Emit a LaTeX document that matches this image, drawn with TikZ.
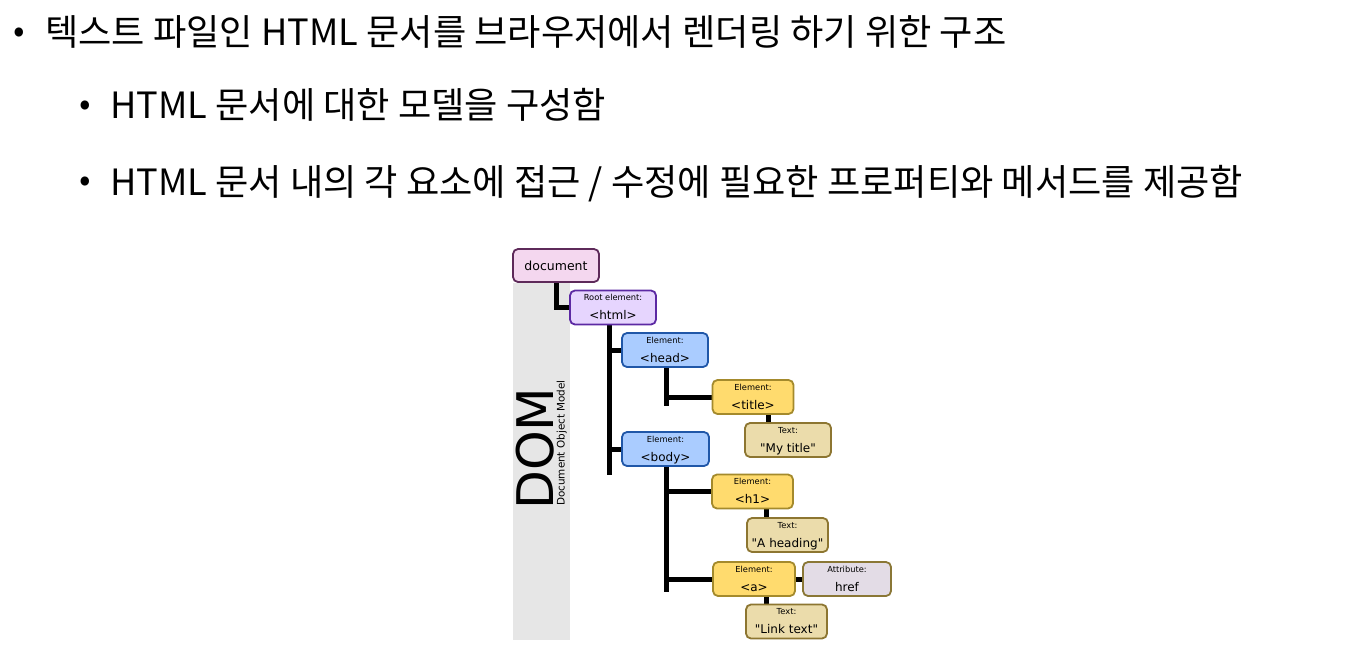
\documentclass[tikz,border=0pt]{standalone}
\usepackage{fontspec}
\setmainfont{Noto Sans CJK KR}
\newfontfamily\dvsans{DejaVu Sans}
\usetikzlibrary{calc}
\pgfdeclarelayer{background}
\pgfsetlayers{background,main}
\definecolor{bandgray}{HTML}{E6E6E6}
\definecolor{docfill}{HTML}{F4D7EF}
\definecolor{docdraw}{HTML}{5E2A5A}
\definecolor{htmlfill}{HTML}{E6D5FE}
\definecolor{htmldraw}{HTML}{5C29A3}
\definecolor{bluefill}{HTML}{AACCFF}
\definecolor{bluedraw}{HTML}{2057A8}
\definecolor{yelfill}{HTML}{FFDB6E}
\definecolor{yeldraw}{HTML}{A48A2C}
\definecolor{tanfill}{HTML}{EBDCAB}
\definecolor{tandraw}{HTML}{8D7631}
\definecolor{attfill}{HTML}{E3DCE6}
\definecolor{attdraw}{HTML}{8A7736}
\newcommand\dombox[7]{%
  \node[dbox, fill=#4, draw=#5, minimum width=#3] (#1) at (#2) {};
  \node[lblsm] (#1-s) at ($(#1.north)+(0,11)$) {#6};
  \node[lblbig] (#1-b) at ($(#1.north)+(0,30)$) {#7};
}
\begin{document}
\begin{tikzpicture}[x=1pt,y=-1pt,
  ko/.style={anchor=base west, inner sep=0pt, font=\fontsize{36.2}{42}\selectfont},
  bul/.style={anchor=base, inner sep=0pt, font=\fontsize{34}{40}\selectfont},
  dbox/.style={rounded corners=5pt, line width=1.8pt, inner sep=0pt, minimum height=34pt},
  lblsm/.style={anchor=base, inner sep=0pt, font=\dvsans\fontsize{8.3}{10}\selectfont},
  lblbig/.style={anchor=base, inner sep=0pt, font=\dvsans\fontsize{12}{14}\selectfont},
  conn/.style={line width=5pt, black},
]
\useasboundingbox (0,0) rectangle (1354,665);

% text lines
\node[bul] (b1) at (19,42) {•};
\node[ko] (t1) at (45,45.5) {텍스트 파일인 HTML 문서를 브라우저에서 렌더링 하기 위한 구조};
\node[bul] (b2) at (85,115) {•};
\node[ko] (t2) at (110,118.5) {HTML 문서에 대한 모델을 구성함};
\node[bul] (b3) at (85,191.5) {•};
\node[ko] (t3) at (110,195) {HTML 문서 내의 각 요소에 접근 / 수정에 필요한 프로퍼티와 메서드를 제공함};

% boxes
\node[dbox, fill=docfill, draw=docdraw, minimum width=86pt, minimum height=33pt] (document) at (556,265.5) {};
\node[anchor=base, inner sep=0pt, font=\dvsans\fontsize{12.5}{14}\selectfont] (document-t) at ($(document.center)+(0,5)$) {document};
\dombox{html}{613,307.5}{86pt}{htmlfill}{htmldraw}{Root element:}{<html>}
\dombox{head}{665,350}{86pt}{bluefill}{bluedraw}{Element:}{<head>}
\dombox{title}{753,397}{81pt}{yelfill}{yeldraw}{Element:}{<title>}
\dombox{mytitle}{788,440}{86pt}{tanfill}{tandraw}{Text:}{"My title"}
\dombox{body}{665.5,449}{87pt}{bluefill}{bluedraw}{Element:}{<body>}
\dombox{h1}{752.5,491.5}{81pt}{yelfill}{yeldraw}{Element:}{<h1>}
\dombox{aheading}{787.5,535}{81pt}{tanfill}{tandraw}{Text:}{"A heading"}
\dombox{a}{754,579}{82pt}{yelfill}{yeldraw}{Element:}{<a>}
\dombox{href}{847,579}{88pt}{attfill}{attdraw}{Attribute:}{href}
\dombox{linktext}{786.5,621.5}{81pt}{tanfill}{tandraw}{Text:}{"Link text"}

% connectors and band
\coordinate (x1) at (609,0);
\coordinate (x2) at (666,0);
\coordinate (x3) at (768,0);
\coordinate (x4) at (766,0);
\coordinate (e1) at (609,475);
\coordinate (e2) at (666,406);
\coordinate (e3) at (666,592);
\begin{pgfonlayer}{background}
\fill[white] (0,0) rectangle (1354,665);
\fill[bandgray] (513,283) rectangle (570,640);
\node[rotate=90, anchor=base west, inner sep=0pt, font=\dvsans\fontsize{50.5}{52}\selectfont] (dom) at (553,510) {DOM};
\node[rotate=90, anchor=base west, inner sep=0pt, font=\dvsans\fontsize{10.4}{12}\selectfont] (domsub) at (564.5,506) {Document Object Model};
\draw[conn] (document.south) |- (html.west);
\draw[conn] (html.south -| x1) -- (e1);
\draw[conn] (head.west -| x1) -- (head.west);
\draw[conn] (body.west -| x1) -- (body.west);
\draw[conn] (head.south -| x2) -- (e2);
\draw[conn] (title.west -| x2) -- (title.west);
\draw[conn] (body.south -| x2) -- (e3);
\draw[conn] (h1.west -| x2) -- (h1.west);
\draw[conn] (a.west -| x2) -- (a.west);
\draw[conn] (title.south -| x3) -- (mytitle.north -| x3);
\draw[conn] (h1.south -| x4) -- (aheading.north -| x4);
\draw[conn] (a.south -| x4) -- (linktext.north -| x4);
\draw[conn] (a.east) -- (href.west);
\end{pgfonlayer}
\end{tikzpicture}
\end{document}
